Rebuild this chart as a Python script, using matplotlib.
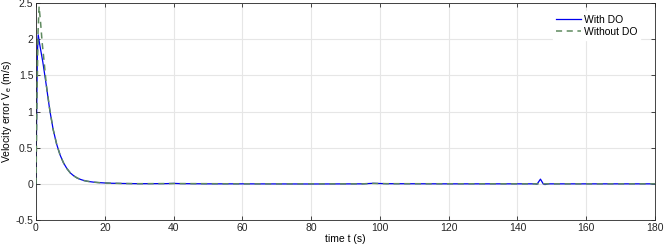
import numpy as np
import matplotlib
matplotlib.use("Agg")
import matplotlib.pyplot as plt

plt.rcParams['font.family'] = ['Liberation Sans', 'DejaVu Sans']
plt.rcParams['font.size'] = 7.5
plt.rcParams['mathtext.fontset'] = 'custom'
plt.rcParams['mathtext.rm'] = 'Liberation Sans'
plt.rcParams['mathtext.it'] = 'Liberation Sans'

# time samples (s) and velocity error (m/s)
t_do = [0, 0.2, 0.4, 0.65, 1, 2, 3, 4, 5, 6, 7, 8, 9, 10, 11, 12, 13, 14, 15,
        16, 17, 18, 20, 22, 25, 30, 38, 40, 42, 50, 60, 80, 95, 98, 102, 120,
        145, 145.7, 146.7, 147.5, 148, 149, 160, 180]
v_do = [0, 1.0, 1.8, 2.06, 1.95, 1.68, 1.36, 1.02, 0.75, 0.55, 0.40, 0.29,
        0.21, 0.15, 0.11, 0.08, 0.06, 0.045, 0.035, 0.028, 0.022, 0.018,
        0.012, 0.008, 0.005, 0.002, 0.003, 0.006, 0.003, 0.0, 0.0, -0.002,
        0.0, 0.007, 0.002, 0.0, 0.0, -0.005, 0.065, 0.0, -0.01, 0.0, 0.0, 0.0]

t_nodo = [0, 0.3, 0.6, 0.9, 1.3, 1.8, 2.3, 3, 4, 5, 6, 7, 8, 9, 10, 11, 12, 13,
          14, 15, 16, 17, 18, 20, 22, 25, 30, 40, 60, 95, 98, 102, 145, 148, 180]
v_nodo = [0, 1.2, 2.1, 2.45, 2.25, 1.95, 1.72, 1.37, 1.03, 0.75, 0.55, 0.40,
          0.29, 0.21, 0.15, 0.11, 0.08, 0.06, 0.045, 0.035, 0.028, 0.022,
          0.018, 0.012, 0.008, 0.005, 0.002, 0.004, 0.0, 0.0, 0.006, 0.002,
          0.0, 0.0, 0.0]

fig = plt.figure(figsize=(6.64, 2.48), dpi=100)
ax = fig.add_axes([0.0542, 0.1129, 0.9322, 0.875])

ax.plot(t_do, v_do, color='#0000ee', linewidth=0.9, label='With DO', zorder=2)
ax.plot(t_nodo, v_nodo, color='#5f8a5f', linestyle=(0, (4, 3)), linewidth=1.1,
        label='Without DO', zorder=3)

ax.set_xlim(0, 180)
ax.set_ylim(-0.5, 2.5)
ax.set_xticks(np.arange(0, 181, 20))
ax.set_yticks(np.arange(-0.5, 2.51, 0.5))
ax.set_yticklabels(['-0.5', '0', '0.5', '1', '1.5', '2', '2.5'])
ax.grid(True, color='#e6e6e6', linewidth=0.8)
ax.set_axisbelow(True)
ax.tick_params(direction='in', length=3, width=0.6, colors='#262626',
               top=True, right=True, pad=2)
for s in ax.spines.values():
    s.set_color('#262626')
    s.set_linewidth(0.6)

ax.set_xlabel('time t (s)', labelpad=1)
ax.set_ylabel('Velocity error V$_e$ (m/s)', labelpad=1)

leg = ax.legend(loc='upper right', frameon=True,
                fancybox=False, edgecolor='white', framealpha=1,
                handlelength=2.4, handletextpad=0.3, borderpad=0.3,
                labelspacing=0.2, bbox_to_anchor=(0.985, 0.985))

fig.savefig('out.png', dpi=100)
